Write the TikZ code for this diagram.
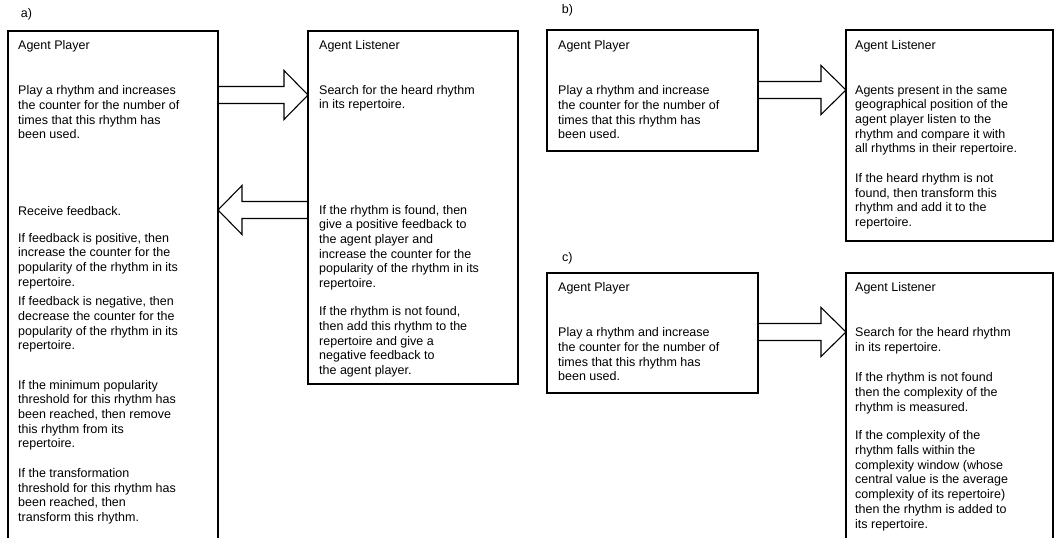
\documentclass[tikz,border=0pt]{standalone}
\usepackage{fontspec}
\setmainfont{Liberation Sans}
\usetikzlibrary{calc}
\newcommand{\blockarr}[3]{% #1 start, #2 tip, #3 signed head length
  \draw[barrow] ($(#1)+(0,-8.5)$) -- ($(#2)+(#3,-8.5)$) -- ($(#2)+(#3,-24.5)$) -- (#2)
    -- ($(#2)+(#3,24.5)$) -- ($(#2)+(#3,8.5)$) -- ($(#1)+(0,8.5)$);}
\begin{document}
\begin{tikzpicture}[x=1pt,y=-1pt,
  box/.style={draw, line width=1.5pt, anchor=north west, inner sep=0pt, outer sep=0pt},
  barrow/.style={draw, line width=1.1pt, line join=miter},
  txt/.style={anchor=north west, inner sep=0pt, align=left, font=\fontsize{12.5pt}{14.7pt}\selectfont}]
\useasboundingbox[fill=white] (0,0) rectangle (1055,538);
\clip (0,0) rectangle (1055,538);
% boxes
\node[box, minimum width=210pt, minimum height=530pt] (pa) at (8,31) {};
\node[box, minimum width=210pt, minimum height=353pt] (la) at (308,31) {};
\node[box, minimum width=211pt, minimum height=121pt] (pb) at (547,30) {};
\node[box, minimum width=207pt, minimum height=211pt] (lb) at (846,30) {};
\node[box, minimum width=211pt, minimum height=120pt] (pc) at (547,273) {};
\node[box, minimum width=207pt, minimum height=290pt] (lc) at (846,273) {};
% arrows
\coordinate (a1s) at (pa.east |- 0,95);
\coordinate (a1t) at (la.west |- 0,95);
\coordinate (a2s) at (la.west |- 0,210);
\coordinate (a2t) at (pa.east |- 0,210);
\coordinate (bs) at (pb.east |- 0,90);
\coordinate (bt) at (lb.west |- 0,90);
\coordinate (cs) at (pc.east |- 0,332);
\coordinate (ct) at (lc.west |- 0,332);
\blockarr{a1s}{a1t}{-24}
\blockarr{a2s}{a2t}{24}
\blockarr{bs}{bt}{-25}
\blockarr{cs}{ct}{-25}
% labels
\node[txt] (la-lbl) at (20.7,6.9) {\strut a)};
\node[txt] (lb-lbl) at (561.7,2.9) {\strut b)};
\node[txt] (lc-lbl) at (562,250.9) {\strut c)};
% a) player
\node[txt] (pa1) at (18,38.7) {\strut Agent Player};
\node[txt] (pa2) at (18,84.4) {\strut Play a rhythm and increases\\the counter for the number of\\times that this rhythm has\\been used.};
\node[txt] (pa3) at (18,205.4) {\strut Receive feedback.};
\node[txt] (pa4) at (18,231.7) {\strut If feedback is positive, then\\increase the counter for the\\popularity of the rhythm in its\\repertoire.};
\node[txt] (pa5) at (18,295.4) {\strut If feedback is negative, then\\decrease the counter for the\\popularity of the rhythm in its\\repertoire.};
\node[txt] (pa6) at (18,378.7) {\strut If the minimum popularity\\threshold for this rhythm has\\been reached, then remove\\this rhythm from its\\repertoire.};
\node[txt] (pa7) at (18,467) {\strut If the transformation\\threshold for this rhythm has\\been reached, then\\transform this rhythm.};
% a) listener
\node[txt] (la1) at (319,38.7) {\strut Agent Listener};
\node[txt] (la2) at (319,83.7) {\strut Search for the heard rhythm\\in its repertoire.};
\node[txt] (la3) at (319,203.7) {\strut If the rhythm is found, then\\give a positive feedback to\\the agent player and\\increase the counter for the\\popularity of the rhythm in its\\repertoire.};
\node[txt] (la4) at (319,305.4) {\strut If the rhythm is not found,\\then add this rhythm to the\\repertoire and give a\\negative feedback to\\the agent player.};
% b)
\node[txt] (pb1) at (558,38.7) {\strut Agent Player};
\node[txt] (pb2) at (558,84.4) {\strut Play a rhythm and increase\\the counter for the number of\\times that this rhythm has\\been used.};
\node[txt] (lb1) at (855,38.7) {\strut Agent Listener};
\node[txt] (lb2) at (855,83.7) {\strut Agents present in the same\\geographical position of the\\agent player listen to the\\rhythm and compare it with\\all rhythms in their repertoire.};
\node[txt] (lb3) at (855,172) {\strut If the heard rhythm is not\\found, then transform this\\rhythm and add it to the\\repertoire.};
% c)
\node[txt] (pc1) at (558,281) {\strut Agent Player};
\node[txt] (pc2) at (558,326.4) {\strut Play a rhythm and increase\\the counter for the number of\\times that this rhythm has\\been used.};
\node[txt] (lc1) at (855,281) {\strut Agent Listener};
\node[txt] (lc2) at (855,326.4) {\strut Search for the heard rhythm\\in its repertoire.};
\node[txt] (lc3) at (855,371.4) {\strut If the rhythm is not found\\then the complexity of the\\rhythm is measured.};
\node[txt] (lc4) at (855,429.4) {\strut If the complexity of the\\rhythm falls within the\\complexity window (whose\\central value is the average\\complexity of its repertoire)\\then the rhythm is added to\\its repertoire.};
\end{tikzpicture}
\end{document}
